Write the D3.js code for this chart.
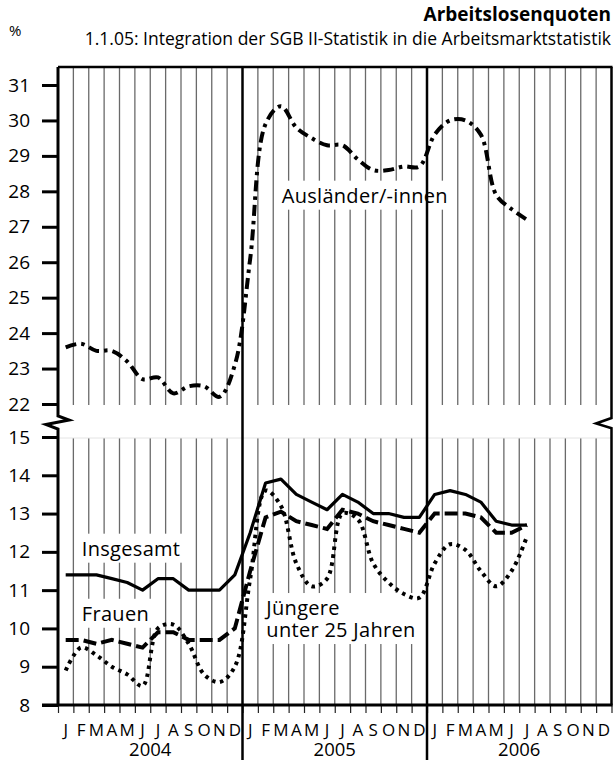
<html>
<head>
  <script src="https://d3js.org/d3.v7.min.js"></script>
  <style>
    body { margin: 0; background: #fff; }
    text { font-family: "Open Sans", sans-serif; }
  </style>
</head>
<body>
<script>

// Jan 2004 .. Jul 2006, one value per month
let monthLetters = ["J", "F", "M", "A", "M", "J", "J", "A", "S", "O", "N", "D"];
let years = ["2004", "2005", "2006"];
let topTicks = [22, 23, 24, 25, 26, 27, 28, 29, 30, 31];
let bottomTicks = [8, 9, 10, 11, 12, 13, 14, 15];

let insgesamt = [11.4, 11.4, 11.4, 11.3, 11.2, 11.0, 11.3, 11.3, 11.0, 11.0, 11.0, 11.4,
  12.5, 13.8, 13.9, 13.5, 13.3, 13.1, 13.5, 13.3, 13.0, 13.0, 12.9, 12.9,
  13.5, 13.6, 13.5, 13.3, 12.8, 12.7, 12.7];
let frauen = [9.7, 9.7, 9.6, 9.7, 9.6, 9.5, 9.9, 9.9, 9.7, 9.7, 9.7, 10.0,
  11.5, 12.9, 13.05, 12.8, 12.7, 12.6, 13.1, 13.0, 12.8, 12.7, 12.6, 12.5,
  13.0, 13.0, 13.0, 12.9, 12.5, 12.5, 12.7];
let juengere = [8.9, 9.5, 9.3, 9.0, 8.8, 8.5, 10.0, 10.1, 9.6, 8.8, 8.6, 9.0,
  11.3, 13.6, 13.2, 11.7, 11.1, 11.3, 13.0, 12.85, 11.7, 11.2, 10.9, 10.8,
  11.7, 12.2, 12.05, 11.5, 11.1, 11.5, 12.4];
let auslaender = [23.6, 23.7, 23.5, 23.5, 23.2, 22.7, 22.75, 22.3, 22.5, 22.5, 22.2, 23.1,
  26.1, 29.9, 30.4, 29.8, 29.5, 29.3, 29.3, 28.9, 28.6, 28.6, 28.7, 28.7,
  29.6, 30.0, 30.0, 29.6, 27.9, 27.5, 27.2];

init();

function init() {

  let canvasW = 613;
  let canvasH = 762;

  let left = 58;
  let right = 611.5;
  let plotTop = 67;
  let breakTop = 405;
  let breakBottom = 438;
  let plotBottom = 705;

  let svg = d3.select("body").append("svg")
    .attr("width", canvasW)
    .attr("height", canvasH);

  let xPos = d3.scaleLinear().domain([0, 36]).range([left, right]);
  let xBand = d3.scaleBand().domain(d3.range(36)).range([left, right]);
  let yTop = d3.scaleLinear().domain([22, 31]).range([404, 85]);
  let yBot = d3.scaleLinear().domain([8, 15]).range([plotBottom, 437]);

  // month grid lines
  let gridIdx = d3.range(1, 36).filter(k => k % 12 != 0);

  svg.selectAll(".gridTop")
    .data(gridIdx)
    .enter()
    .append("line")
    .attr("x1", d => xPos(d))
    .attr("x2", d => xPos(d))
    .attr("y1", plotTop)
    .attr("y2", breakTop)
    .attr("stroke", "#6a6a6a")
    .attr("stroke-width", 1.3);

  svg.selectAll(".gridBot")
    .data(gridIdx)
    .enter()
    .append("line")
    .attr("x1", d => xPos(d))
    .attr("x2", d => xPos(d))
    .attr("y1", breakBottom)
    .attr("y2", plotBottom)
    .attr("stroke", "#6a6a6a")
    .attr("stroke-width", 1.3);

  svg.append("line")
    .attr("x1", left).attr("x2", right)
    .attr("y1", breakBottom).attr("y2", breakBottom)
    .attr("stroke", "#e4e4e4")
    .attr("stroke-width", 1);

  // ticks under the x axis
  svg.append("g")
    .attr("transform", "translate(0," + plotBottom + ")")
    .call(d3.axisBottom(xPos).tickValues(d3.range(0, 37)).tickFormat("").tickSize(8).tickSizeOuter(0))
    .call(g => g.select(".domain").remove())
    .selectAll("line")
    .attr("stroke", "#222")
    .attr("stroke-width", 1.2);

  // month letters
  svg.append("g")
    .attr("transform", "translate(0," + plotBottom + ")")
    .call(d3.axisBottom(xBand).tickFormat(i => monthLetters[i % 12]).tickSize(0).tickPadding(19))
    .call(g => g.select(".domain").remove())
    .selectAll("text")
    .attr("font-family", "'Open Sans', sans-serif")
    .attr("font-size", "17px")
    .attr("fill", "#000");

  svg.selectAll(".year")
    .data(years)
    .enter()
    .append("text")
    .attr("x", (d, i) => xPos(i * 12 + 6))
    .attr("y", 756)
    .attr("text-anchor", "middle")
    .attr("font-size", "18.5px")
    .text(d => d);

  // series
  let lineTop = d3.line()
    .x((d, i) => xPos(i + 0.5))
    .y(d => yTop(d))
    .curve(d3.curveCatmullRom);

  let lineLinear = d3.line()
    .x((d, i) => xPos(i + 0.5))
    .y(d => yBot(d));

  let lineSmooth = d3.line()
    .x((d, i) => xPos(i + 0.5))
    .y(d => yBot(d))
    .curve(d3.curveCatmullRom);

  // labels with white boxes
  function label(lines, x, y) {
    let g = svg.append("g");
    let t = g.append("text")
      .attr("x", x)
      .attr("y", y)
      .attr("font-size", "20px")
      .attr("letter-spacing", "0.3px")
      .attr("fill", "#000");
    lines.forEach((s, i) => {
      t.append("tspan")
        .attr("x", x)
        .attr("dy", i == 0 ? 0 : 22)
        .text(s);
    });
    let b = t.node().getBBox();
    g.insert("rect", "text")
      .attr("x", b.x - 3)
      .attr("y", b.y - 1)
      .attr("width", b.width + 5)
      .attr("height", b.height + 2)
      .attr("fill", "#fff");
  }

  label(["Ausländer/-innen"], xPos(14.55), yTop(27.68));
  label(["Insgesamt"], xPos(1.55), yBot(11.9));
  label(["Frauen"], xPos(1.55), yBot(10.2));
  label(["Jüngere", "unter 25 Jahren"], xPos(13.55), yBot(10.35));

  svg.append("path")
    .attr("d", lineTop(auslaender))
    .attr("fill", "none")
    .attr("stroke", "#000")
    .attr("stroke-width", 4)
    .attr("stroke-dasharray", "11,5,3.5,5");

  svg.append("path")
    .attr("d", lineSmooth(juengere))
    .attr("fill", "none")
    .attr("stroke", "#000")
    .attr("stroke-width", 4)
    .attr("stroke-dasharray", "3.5,4.5");

  svg.append("path")
    .attr("d", lineLinear(frauen))
    .attr("fill", "none")
    .attr("stroke", "#000")
    .attr("stroke-width", 4)
    .attr("stroke-dasharray", "13,5");

  svg.append("path")
    .attr("d", lineLinear(insgesamt))
    .attr("fill", "none")
    .attr("stroke", "#000")
    .attr("stroke-width", 3.2)
    .attr("stroke-linejoin", "round");

  // frame
  svg.append("line")
    .attr("x1", left).attr("x2", right + 1)
    .attr("y1", plotTop).attr("y2", plotTop)
    .attr("stroke", "#000").attr("stroke-width", 2.5);

  svg.append("line")
    .attr("x1", 42).attr("x2", right + 1)
    .attr("y1", plotBottom).attr("y2", plotBottom)
    .attr("stroke", "#000").attr("stroke-width", 3);

  svg.selectAll(".yearLine")
    .data([12, 24])
    .enter()
    .append("line")
    .attr("x1", d => xPos(d))
    .attr("x2", d => xPos(d))
    .attr("y1", plotTop)
    .attr("y2", 760)
    .attr("stroke", "#000")
    .attr("stroke-width", 2.5);

  svg.append("path")
    .attr("d", "M" + left + "," + plotTop + "V416L69,420L46,424.5L" + left + ",429V" + plotBottom)
    .attr("fill", "none")
    .attr("stroke", "#000")
    .attr("stroke-width", 3);

  svg.append("path")
    .attr("d", "M" + right + "," + plotTop + "V418L596,423.5L" + (right + 1) + ",428.5M" + right + ",428V" + plotBottom)
    .attr("fill", "none")
    .attr("stroke", "#000")
    .attr("stroke-width", 2.5);

  // y axes
  svg.append("g")
    .attr("transform", "translate(" + left + ",0)")
    .call(d3.axisLeft(yTop).tickValues(topTicks).tickFormat(d3.format("d")).tickSize(16).tickPadding(12).tickSizeOuter(0))
    .call(g => g.select(".domain").remove());

  svg.append("g")
    .attr("transform", "translate(" + left + ",0)")
    .call(d3.axisLeft(yBot).tickValues(bottomTicks).tickFormat(d3.format("d")).tickSize(16).tickPadding(12).tickSizeOuter(0))
    .call(g => g.select(".domain").remove());

  svg.selectAll(".tick line").filter(function () { return +d3.select(this).attr("x2") < 0; })
    .attr("stroke", "#000")
    .attr("stroke-width", 3);

  svg.selectAll("g.tick text").filter(function () { return d3.select(this).attr("x") != null && +d3.select(this).attr("x") < 0; })
    .attr("font-family", "'Open Sans', sans-serif")
    .attr("font-size", "19px")
    .attr("fill", "#000");

  // titles
  svg.append("text")
    .attr("x", 611)
    .attr("y", 21)
    .attr("text-anchor", "end")
    .attr("font-size", "19px")
    .attr("font-weight", "bold")
    .text("Arbeitslosenquoten");

  svg.append("text")
    .attr("x", 611)
    .attr("y", 45)
    .attr("text-anchor", "end")
    .attr("font-size", "17.5px")
    .text("1.1.05: Integration der SGB II-Statistik in die Arbeitsmarktstatistik");

  svg.append("text")
    .attr("x", 9)
    .attr("y", 36)
    .attr("font-size", "15px")
    .text("%");
}

</script>
</body>
</html>
